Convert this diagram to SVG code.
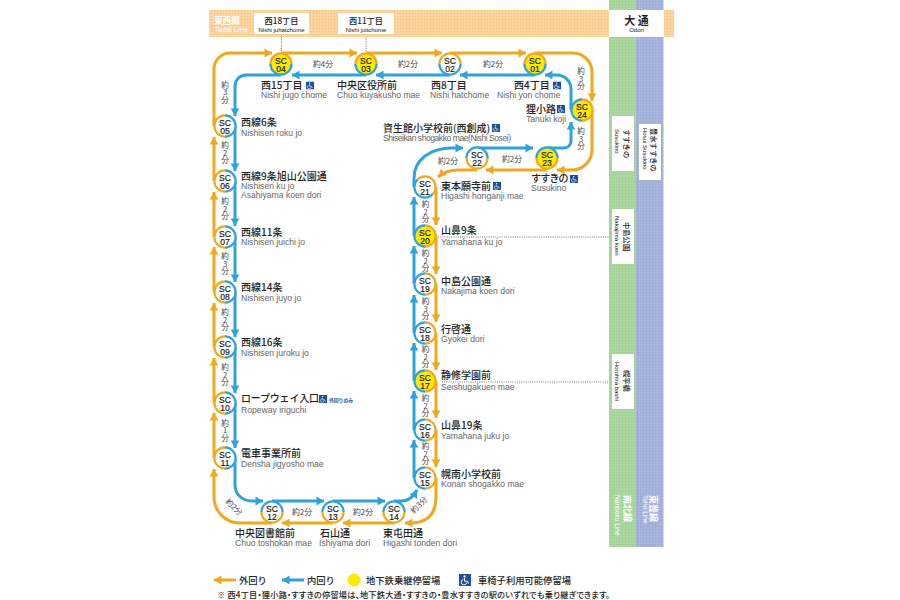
<svg xmlns="http://www.w3.org/2000/svg" xmlns:xlink="http://www.w3.org/1999/xlink" width="900" height="600" viewBox="0 0 900 600">
<style>
text{font-family:"Liberation Sans","Noto Sans CJK JP",sans-serif}
.j{font-family:"Noto Sans CJK JP",sans-serif;font-size:10px;font-weight:500;fill:#222}
.r{font-size:8.6px;fill:#666}
.t{font-family:"Noto Sans CJK JP",sans-serif;font-size:7.800px;fill:#444}
.v{font-family:"Noto Sans CJK JP",sans-serif;font-size:7.600px;fill:#444;writing-mode:vertical-rl;text-orientation:upright;text-anchor:middle}
.c{text-anchor:middle}
.sc{font-size:8.6px;fill:#111;stroke:#111;stroke-width:.15;text-anchor:middle}
.o,.b{fill:none;stroke-width:3}
.o{stroke:#f0a91e;marker-end:url(#mo)}
.b{stroke:#2ea2dc;marker-end:url(#mb)}
.y{fill:#ffe900}
.w{fill:#fff}
.box{fill:#fff}
.h1{font-family:"Noto Sans CJK JP",sans-serif;font-size:8.200px;font-weight:500;fill:#222;text-anchor:middle}
.s1{font-family:"Noto Sans CJK JP",sans-serif;font-size:7.300px;font-weight:500;fill:#222}
.h2{font-size:6px;fill:#111;text-anchor:middle}
.s2{font-size:6px;fill:#111}
.dot{stroke:#555;stroke-width:.8;stroke-dasharray:1 1.2;fill:none}
.leg{font-family:"Noto Sans CJK JP",sans-serif;font-size:9.3px;font-weight:500;fill:#222}
</style>
<defs>
<marker id="mo" markerUnits="userSpaceOnUse" markerWidth="10" markerHeight="10" refX="9" refY="5" orient="auto"><path d="M1.500,.6 L9,5 L1.500,9.4Z" fill="#f0a91e"/></marker>
<marker id="mb" markerUnits="userSpaceOnUse" markerWidth="10" markerHeight="10" refX="9" refY="5" orient="auto"><path d="M1.500,.6 L9,5 L1.500,9.4Z" fill="#2ea2dc"/></marker>
<pattern id="po" width="3" height="3" patternUnits="userSpaceOnUse"><rect width="3" height="3" fill="#fdd9a6"/><circle cx="1.5" cy="1.5" r="1" fill="#fbc680"/></pattern>
<pattern id="pg" width="3" height="3" patternUnits="userSpaceOnUse"><rect width="3" height="3" fill="#aed8a2"/><circle cx="1.5" cy="1.5" r="1" fill="#9fcf92"/></pattern>
<pattern id="pb" width="3" height="3" patternUnits="userSpaceOnUse"><rect width="3" height="3" fill="#a9b6de"/><circle cx="1.5" cy="1.5" r="1" fill="#99a8d6"/></pattern>
<symbol id="wc" viewBox="0 0 10 10"><rect width="10" height="10" fill="#1d4f9f"/><circle cx="4.6" cy="2" r=".9" fill="#fff"/><path d="M4.6,3.2V6H7L8,8M3.6,4.6A2.3,2.3 0 1 0 6.4,7.2" fill="none" stroke="#fff" stroke-width=".8"/></symbol>
<g id="ring"><path d="M-10.600,0A10.600,10.600 0 0 1 10.600,0" fill="none" stroke="#f0a91e" stroke-width="2.2"/><path d="M10.600,0A10.600,10.600 0 0 1 -10.600,0" fill="none" stroke="#2ea2dc" stroke-width="2.2"/></g>
</defs>
<g id="bands">
<rect x="209" y="10" width="465" height="27" fill="url(#po)"/>
<rect x="609" y="0" width="27" height="547" fill="url(#pg)"/>
<rect x="636" y="0" width="27.500" height="547" fill="url(#pb)"/>
<rect x="609" y="10" width="55" height="27" fill="#fff"/>
<text x="214" y="23.500" font-size="8.600" font-weight="700" fill="#fff" style="font-family:'Noto Sans CJK JP',sans-serif">東西線</text>
<text x="214" y="31.500" font-size="7.600" fill="#fff">Tozai Line</text>
<text x="636.500" y="25" class="c" font-size="11" font-weight="700" fill="#222" style="font-family:'Noto Sans CJK JP',sans-serif">大 通</text>
<text x="636.500" y="31.500" class="h2">Odori</text>
</g>
<g id="top-stops">
<rect class="box" x="254" y="13" width="55" height="21"/>
<text class="h1" x="281.500" y="23.500">西18丁目</text><text class="h2" x="281.500" y="31.500">Nishi juhatchome</text>
<rect class="box" x="338" y="13" width="56" height="21"/>
<text class="h1" x="366" y="23.500">西11丁目</text><text class="h2" x="366" y="31.500">Nishi juitchome</text>
<path class="dot" d="M281.500,37V51M366,37V51M438,237H609M442,382H609"/>
</g>
<g id="side-stops">
<rect class="box" x="612" y="116" width="22" height="55"/>
<text class="s1" transform="translate(623.500,129) rotate(90)">すすきの</text>
<text class="s2" transform="translate(615,129) rotate(90)">Susukino</text>
<rect class="box" x="639" y="124" width="22" height="56"/>
<text class="s1" transform="translate(650.500,128) rotate(90)">豊水すすきの</text>
<text class="s2" transform="translate(643,128) rotate(90)">Hosui Susukino</text>
<rect class="box" x="612" y="209" width="22" height="55"/>
<text class="s1" transform="translate(623.500,222) rotate(90)">中島公園</text>
<text class="s2" transform="translate(615,216) rotate(90)">Nakajima koen</text>
<rect class="box" x="612" y="354" width="22" height="55"/>
<text class="s1" transform="translate(623.500,370) rotate(90)">幌平橋</text>
<text class="s2" transform="translate(615,362) rotate(90)">Horohira bashi</text>
<text transform="translate(623.500,495) rotate(90)" font-size="9" font-weight="700" fill="#fff" style="font-family:'Noto Sans CJK JP',sans-serif">南北線</text>
<text transform="translate(615,495) rotate(90)" font-size="6.600" fill="#fff">Nanboku Line</text>
<text transform="translate(649.500,495) rotate(90)" font-size="9" font-weight="700" fill="#fff" style="font-family:'Noto Sans CJK JP',sans-serif">東豊線</text>
<text transform="translate(643,495) rotate(90)" font-size="6.600" fill="#fff">Toho Line</text>
</g>
<g id="connectors">
<path class="o" d="M214,126V69A16,16 0 0 1 230,53H272"/>
<path class="o" d="M281,53H357"/><path class="o" d="M366,53H442"/><path class="o" d="M450,53H526"/>
<path class="o" d="M535,53H573A19,19 0 0 1 592,72V101"/>
<path class="o" d="M592,110V150A20,20 0 0 1 572,170H557"/>
<path class="o" d="M547,170H486"/>
<path class="o" d="M477,170H458Q446,170 438,177"/>
<path class="o" d="M436,187V225"/><path class="o" d="M436,236V274"/><path class="o" d="M436,284V322"/><path class="o" d="M436,333V370"/><path class="o" d="M436,381V418"/><path class="o" d="M436,430V467"/>
<path class="o" d="M436,478V497Q436,523 410,523H405"/>
<path class="o" d="M394,523H343"/><path class="o" d="M333,523H282"/>
<path class="o" d="M272,523H240A26,26 0 0 1 214,497V469"/>
<path class="o" d="M214,458V413"/><path class="o" d="M214,403V358"/><path class="o" d="M214,347V303"/><path class="o" d="M214,292V247"/><path class="o" d="M214,237V192"/><path class="o" d="M214,181V137"/>
<path class="b" d="M281,75H246A11,11 0 0 0 235,86V116"/>
<path class="b" d="M366,75H292"/><path class="b" d="M450,75H376"/><path class="b" d="M535,75H460"/>
<path class="b" d="M571,110V89A14,14 0 0 0 557,75H545"/>
<path class="b" d="M547,148H564A7,7 0 0 0 571,141V122"/>
<path class="b" d="M477,148H533"/>
<path class="b" d="M414,187V178C414,160 430,148 452,148H463"/>
<path class="b" d="M414,236V197"/><path class="b" d="M414,284V246"/><path class="b" d="M414,333V295"/><path class="b" d="M414,381V343"/><path class="b" d="M414,430V391"/><path class="b" d="M414,478V440"/>
<path class="b" d="M394,501H402Q411,501 417,490"/>
<path class="b" d="M333,501H385"/><path class="b" d="M272,501H324"/>
<path class="b" d="M235,458V485A16,16 0 0 0 251,501H263"/>
<path class="b" d="M235,126V171"/><path class="b" d="M235,181V226"/><path class="b" d="M235,237V282"/><path class="b" d="M235,292V337"/><path class="b" d="M235,347V393"/><path class="b" d="M235,403V448"/>
</g>
<g id="times">
<text class="t c" x="323" y="67">約4分</text><text class="t c" x="408" y="67">約2分</text><text class="t c" x="493" y="67">約2分</text>
<text class="t c" x="448" y="164">約2分</text><text class="t c" x="512" y="162">約2分</text>
<text class="t c" x="302" y="515">約2分</text><text class="t c" x="363" y="515">約2分</text>
<text class="t c" transform="translate(232,509) rotate(45)">約2分</text>
<text class="t c" transform="translate(421,507) rotate(-45)">約3分</text>
<text class="v" x="581" y="79">約3分</text>
<text class="v" x="581" y="139">約3分</text>
<text class="v" x="225" y="92.500">約3分</text>
<text class="v" x="225" y="153">約2分</text>
<text class="v" x="225" y="209">約2分</text>
<text class="v" x="225" y="264">約3分</text>
<text class="v" x="225" y="320">約2分</text>
<text class="v" x="225" y="375">約2分</text>
<text class="v" x="225" y="430.500">約1分</text>
<text class="v" x="425.500" y="212">約2分</text>
<text class="v" x="425.500" y="261">約2分</text>
<text class="v" x="425.500" y="309">約3分</text>
<text class="v" x="425.500" y="357">約2分</text>
<text class="v" x="425.500" y="406">約2分</text>
<text class="v" x="425.500" y="454">約2分</text>
</g>
<g id="SC01"><circle class="y" cx="535" cy="64" r="11"/><use href="#ring" transform="translate(535,64)"/><text class="sc" x="535" y="64">SC<tspan x="535" dy="7.500">01</tspan></text><text class="j" x="514" y="89">西4丁目</text><text class="r" x="497" y="98">Nishi yon chome</text><use href="#wc" x="553" y="81.500" width="8" height="8"/></g>
<g id="SC02"><circle class="w" cx="450" cy="64" r="11"/><use href="#ring" transform="translate(450,64)"/><text class="sc" x="450" y="64">SC<tspan x="450" dy="7.500">02</tspan></text><text class="j" x="431" y="89">西8丁目</text><text class="r" x="430" y="98">Nishi hatchome</text></g>
<g id="SC03"><circle class="y" cx="366" cy="64" r="11"/><use href="#ring" transform="translate(366,64)"/><text class="sc" x="366" y="64">SC<tspan x="366" dy="7.500">03</tspan></text><text class="j" x="337" y="89">中央区役所前</text><text class="r" x="337" y="98">Chuo kuyakusho mae</text></g>
<g id="SC04"><circle class="y" cx="281" cy="64" r="11"/><use href="#ring" transform="translate(281,64)"/><text class="sc" x="281" y="64">SC<tspan x="281" dy="7.500">04</tspan></text><text class="j" x="261" y="89">西15丁目</text><text class="r" x="261" y="98">Nishi jugo chome</text><use href="#wc" x="306" y="81.500" width="8" height="8"/></g>
<g id="SC05"><circle class="w" cx="225" cy="126" r="11"/><use href="#ring" transform="translate(225,126) rotate(-90)"/><text class="sc" x="225" y="126">SC<tspan x="225" dy="7.500">05</tspan></text><text class="j" x="241" y="126">西線6条</text><text class="r" x="241" y="136">Nishisen roku jo</text></g>
<g id="SC06"><circle class="w" cx="225" cy="181" r="11"/><use href="#ring" transform="translate(225,181) rotate(-90)"/><text class="sc" x="225" y="181">SC<tspan x="225" dy="7.500">06</tspan></text><text class="j" x="241" y="180">西線9条旭山公園通</text><text class="r" x="241" y="189">Nishisen ku jo<tspan x="241" dy="8.500">Asahiyama koen dori</tspan></text></g>
<g id="SC07"><circle class="w" cx="225" cy="237" r="11"/><use href="#ring" transform="translate(225,237) rotate(-90)"/><text class="sc" x="225" y="237">SC<tspan x="225" dy="7.500">07</tspan></text><text class="j" x="241" y="236">西線11条</text><text class="r" x="241" y="245">Nishisen juichi jo</text></g>
<g id="SC08"><circle class="w" cx="225" cy="292" r="11"/><use href="#ring" transform="translate(225,292) rotate(-90)"/><text class="sc" x="225" y="292">SC<tspan x="225" dy="7.500">08</tspan></text><text class="j" x="241" y="291">西線14条</text><text class="r" x="241" y="301">Nishisen juyo jo</text></g>
<g id="SC09"><circle class="w" cx="225" cy="347" r="11"/><use href="#ring" transform="translate(225,347) rotate(-90)"/><text class="sc" x="225" y="347">SC<tspan x="225" dy="7.500">09</tspan></text><text class="j" x="241" y="346">西線16条</text><text class="r" x="241" y="356">Nishisen juroku jo</text></g>
<g id="SC10"><circle class="w" cx="225" cy="403" r="11"/><use href="#ring" transform="translate(225,403) rotate(-90)"/><text class="sc" x="225" y="403">SC<tspan x="225" dy="7.500">10</tspan></text><text class="j" x="241" y="402" style="letter-spacing:-.2px">ロープウェイ入口</text><text class="r" x="241" y="413">Ropeway iriguchi</text><use href="#wc" x="319" y="395" width="8" height="8"/><text x="329" y="402" font-size="4.800" fill="#1d4f9f" font-weight="700" style="font-family:'Noto Sans CJK JP',sans-serif">外回りのみ</text></g>
<g id="SC11"><circle class="w" cx="225" cy="458" r="11"/><use href="#ring" transform="translate(225,458) rotate(-90)"/><text class="sc" x="225" y="458">SC<tspan x="225" dy="7.500">11</tspan></text><text class="j" x="241" y="457">電車事業所前</text><text class="r" x="241" y="467">Densha jigyosho mae</text></g>
<g id="SC12"><circle class="w" cx="272" cy="512" r="11"/><use href="#ring" transform="translate(272,512) rotate(180)"/><text class="sc" x="272" y="512">SC<tspan x="272" dy="7.500">12</tspan></text><text class="j" x="235" y="537">中央図書館前</text><text class="r" x="235" y="546">Chuo toshokan mae</text></g>
<g id="SC13"><circle class="w" cx="333" cy="512" r="11"/><use href="#ring" transform="translate(333,512) rotate(180)"/><text class="sc" x="333" y="512">SC<tspan x="333" dy="7.500">13</tspan></text><text class="j" x="320" y="537">石山通</text><text class="r" x="319" y="546">Ishiyama dori</text></g>
<g id="SC14"><circle class="w" cx="394" cy="512" r="11"/><use href="#ring" transform="translate(394,512) rotate(180)"/><text class="sc" x="394" y="512">SC<tspan x="394" dy="7.500">14</tspan></text><text class="j" x="383" y="537">東屯田通</text><text class="r" x="383" y="546">Higashi tonden dori</text></g>
<g id="SC15"><circle class="w" cx="425" cy="478" r="11"/><use href="#ring" transform="translate(425,478) rotate(90)"/><text class="sc" x="425" y="478">SC<tspan x="425" dy="7.500">15</tspan></text><text class="j" x="441" y="478">幌南小学校前</text><text class="r" x="441" y="487">Konan shogakko mae</text></g>
<g id="SC16"><circle class="w" cx="425" cy="430" r="11"/><use href="#ring" transform="translate(425,430) rotate(90)"/><text class="sc" x="425" y="430">SC<tspan x="425" dy="7.500">16</tspan></text><text class="j" x="441" y="429">山鼻19条</text><text class="r" x="441" y="439">Yamahana juku jo</text></g>
<g id="SC17"><circle class="y" cx="425" cy="381" r="11"/><use href="#ring" transform="translate(425,381) rotate(90)"/><text class="sc" x="425" y="381">SC<tspan x="425" dy="7.500">17</tspan></text><text class="j" x="441" y="379">静修学園前</text><text class="r" x="441" y="390">Seishugakuen mae</text></g>
<g id="SC18"><circle class="w" cx="425" cy="333" r="11"/><use href="#ring" transform="translate(425,333) rotate(90)"/><text class="sc" x="425" y="333">SC<tspan x="425" dy="7.500">18</tspan></text><text class="j" x="441" y="333">行啓通</text><text class="r" x="441" y="342">Gyokei dori</text></g>
<g id="SC19"><circle class="w" cx="425" cy="284" r="11"/><use href="#ring" transform="translate(425,284) rotate(90)"/><text class="sc" x="425" y="284">SC<tspan x="425" dy="7.500">19</tspan></text><text class="j" x="441" y="285">中島公園通</text><text class="r" x="441" y="294">Nakajima koen dori</text></g>
<g id="SC20"><circle class="y" cx="425" cy="236" r="11"/><use href="#ring" transform="translate(425,236) rotate(90)"/><text class="sc" x="425" y="236">SC<tspan x="425" dy="7.500">20</tspan></text><text class="j" x="441" y="234">山鼻9条</text><text class="r" x="441" y="245">Yamahana ku jo</text></g>
<g id="SC21"><circle class="w" cx="425" cy="187" r="11"/><use href="#ring" transform="translate(425,187) rotate(45)"/><text class="sc" x="425" y="187">SC<tspan x="425" dy="7.500">21</tspan></text><text class="j" x="441" y="190">東本願寺前</text><text class="r" x="441" y="199">Higashi honganji mae</text><use href="#wc" x="493" y="182" width="8" height="8"/></g>
<g id="SC22"><circle class="w" cx="477" cy="158" r="11"/><use href="#ring" transform="translate(477,158) rotate(180)"/><text class="sc" x="477" y="158">SC<tspan x="477" dy="7.500">22</tspan></text><text class="j" x="383" y="132" style="font-feature-settings:'palt'">資生館小学校前(西創成)</text><text class="r" x="383" y="141" textLength="128">Shiseikan shogakko mae(Nishi Sosei)</text><use href="#wc" x="492" y="124" width="8" height="8"/></g>
<g id="SC23"><circle class="y" cx="547" cy="158" r="11"/><use href="#ring" transform="translate(547,158) rotate(180)"/><text class="sc" x="547" y="158">SC<tspan x="547" dy="7.500">23</tspan></text><text class="j" x="531" y="182" style="letter-spacing:-.8px">すすきの</text><text class="r" x="531" y="191">Susukino</text><use href="#wc" x="570" y="175" width="8" height="8"/></g>
<g id="SC24"><circle class="y" cx="582" cy="110" r="11"/><use href="#ring" transform="translate(582,110) rotate(90)"/><text class="sc" x="582" y="110">SC<tspan x="582" dy="7.500">24</tspan></text><text class="j" x="526" y="113">狸小路</text><text class="r" x="526" y="122">Tanuki koji</text><use href="#wc" x="557" y="105" width="8" height="8"/></g>
<g id="legend">
<path class="o" d="M236,580H214"/><text class="leg" x="239" y="583.500">外回り</text>
<path class="b" d="M304,580H282"/><text class="leg" x="307" y="583.500">内回り</text>
<circle class="y" cx="354" cy="580" r="6.500"/><text class="leg" x="366" y="583.500">地下鉄乗継停留場</text>
<use href="#wc" x="459" y="574" width="12" height="12"/><text class="leg" x="478" y="583.500">車椅子利用可能停留場</text>
<text class="leg" x="217" y="598" textLength="393" style="font-size:8.200px;font-feature-settings:'palt'">※ 西4丁目・狸小路・すすきの停留場は、地下鉄大通・すすきの・豊水すすきの駅のいずれでも乗り継ぎできます。</text>
</g>
</svg>
